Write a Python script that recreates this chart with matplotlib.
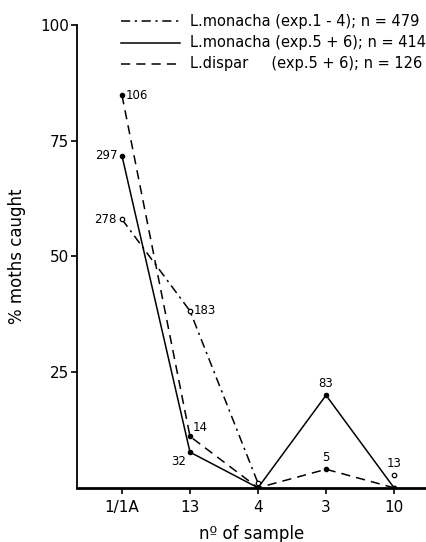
import matplotlib
matplotlib.use("Agg")
import matplotlib.pyplot as plt
import numpy as np

samples = ["1/1A", "13", "4", "3", "10"]

# % moths caught per sample
mon14_pct = [58.0, 38.2, 1.0, np.nan, 2.7]
mon56_pct = [71.7, 7.7, 0.0, 20.0, 0.0]
disp_pct = [84.8, 11.1, 0.0, 4.0, 0.0]

# numbers of moths written next to the points
mon14_n = ["278", "183", "", "", "13"]
mon56_n = ["297", "32", "", "83", ""]
disp_n = ["106", "14", "", "5", ""]

legend_names = ["L.monacha (exp.1 - 4); n = 479",
                "L.monacha (exp.5 + 6); n = 414",
                "L.dispar     (exp.5 + 6); n = 126"]

plt.rcParams['font.family'] = ['DejaVu Sans']

fig = plt.figure(figsize=(4.26, 5.42), dpi=100)
ax = fig.add_axes([0.181, 0.1, 0.819, 0.854])

x = np.arange(1, len(samples) + 1)

# exp 1-4: dash-dot line, open circles; last point not connected
ax.plot(x[:3], mon14_pct[:3], color='black', lw=1.1, ls=(0, (6, 3, 1.5, 3)))
ax.plot(x, mon14_pct, ls='none', marker='o', ms=3.2, mfc='white', mec='black', mew=0.9)

ax.plot(x, mon56_pct, color='black', lw=1.1, ls='-', marker='o', ms=3, mfc='black', mec='black')
ax.plot(x, disp_pct, color='black', lw=1.1, ls=(0, (6, 4)), marker='o', ms=3, mfc='black', mec='black')

fs = 8.5
# label offsets (points)
offs14 = [(-4, 0, 'right', 'center'), (3, 0, 'left', 'center'), None, None, (0, 4, 'center', 'bottom')]
offs56 = [(-3, 0, 'right', 'center'), (-3, -2, 'right', 'top'), None, (0, 4, 'center', 'bottom'), None]
offsd = [(3, 0, 'left', 'center'), (2, 2, 'left', 'bottom'), None, (0, 4, 'center', 'bottom'), None]
for vals, labs, offs in [(mon14_pct, mon14_n, offs14), (mon56_pct, mon56_n, offs56), (disp_pct, disp_n, offsd)]:
    for xi, v, lab, o in zip(x, vals, labs, offs):
        if lab and o is not None:
            ax.annotate(lab, (xi, v), xytext=(o[0], o[1]), textcoords='offset points',
                        ha=o[2], va=o[3], fontsize=fs)

ax.set_xlim(0.34, 5.47)
ax.set_ylim(0, 100)
ax.set_xticks(x)
ax.set_xticklabels(samples, fontsize=11)
ax.set_yticks([25, 50, 75, 100])
ax.set_yticklabels(["25", "50", "75", "100"], fontsize=11)
ax.tick_params(direction='out', length=4, width=1.2, pad=2)
ax.tick_params(axis='x', pad=5)

ax.spines['top'].set_visible(False)
ax.spines['right'].set_visible(False)
ax.spines['left'].set_linewidth(1.3)
ax.spines['bottom'].set_linewidth(2)

ax.set_ylabel("% moths caught", fontsize=12, labelpad=10)
ax.set_xlabel("n\u00ba of sample", fontsize=12, labelpad=7)

# legend drawn by hand at top right
styles = [(0, (6, 3, 1.5, 3)), '-', (0, (6, 4))]
ly = [0.961, 0.921, 0.882]
for name, st, yy in zip(legend_names, styles, ly):
    fig.add_artist(plt.Line2D([0.284, 0.423], [yy, yy], color='black', lw=1.1, ls=st,
                              transform=fig.transFigure))
    fig.text(0.447, yy, name, fontsize=10.5, va='center', ha='left')

fig.savefig("out.png", dpi=100)
